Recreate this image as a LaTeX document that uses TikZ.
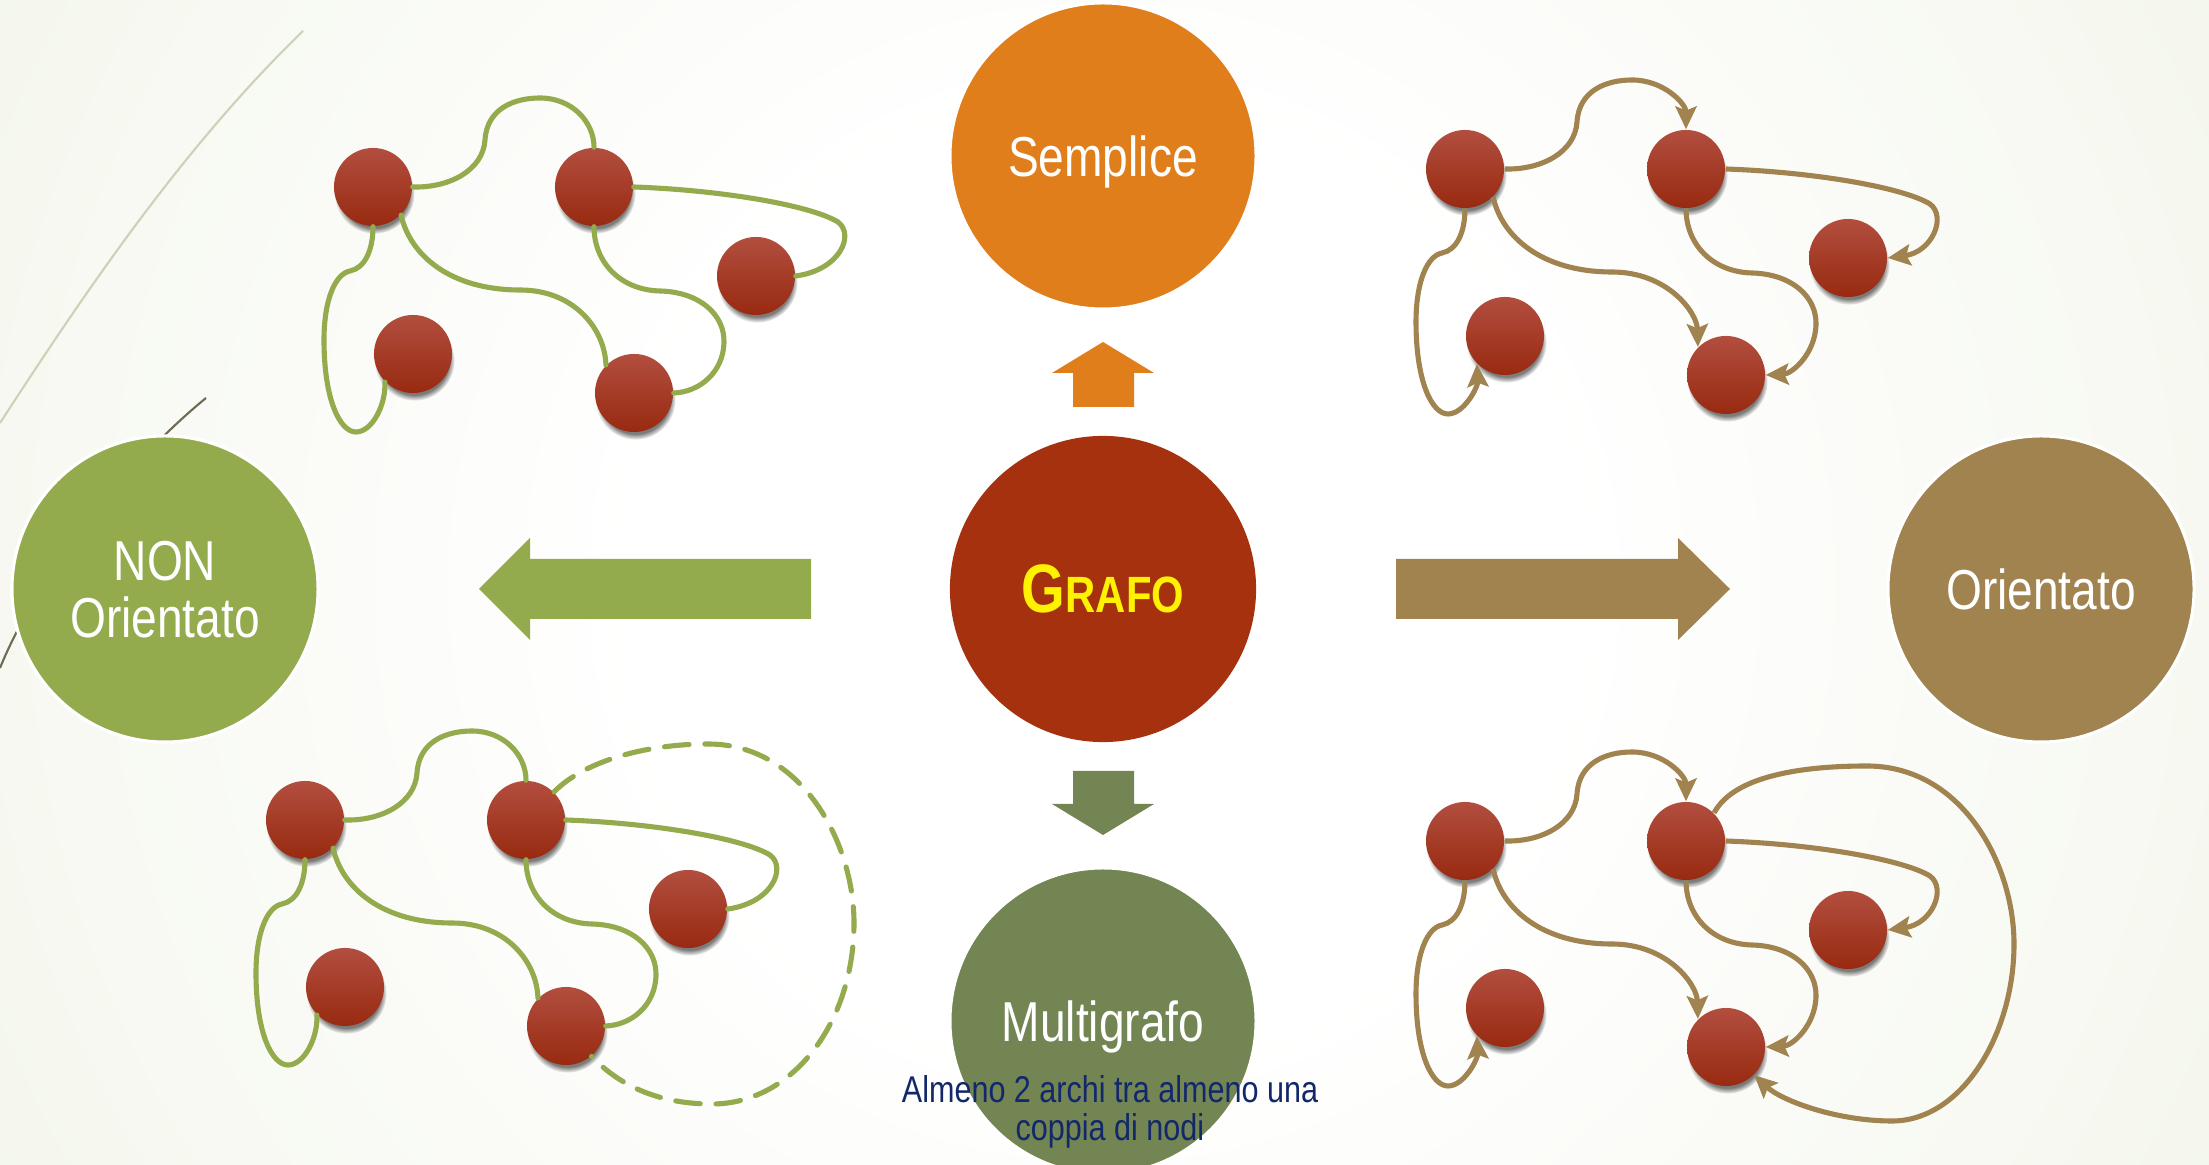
\documentclass[tikz,border=0pt]{standalone}
\usepackage{fontspec}
\setmainfont{Liberation Sans}[FakeStretch=0.82]
\usetikzlibrary{shadows,arrows.meta}

\definecolor{cOrange}{HTML}{DF7E1B}
\definecolor{cRed}{HTML}{A5310F}
\definecolor{cGreen}{HTML}{93AA4D}
\definecolor{cBrown}{HTML}{A0834F}
\definecolor{cOlive}{HTML}{728552}
\definecolor{cNavy}{HTML}{12286B}
\definecolor{ballTop}{HTML}{B24E3F}
\definecolor{ballBot}{HTML}{982A10}
\definecolor{bgMid}{HTML}{F6F8F0}
\definecolor{bgEdge}{HTML}{E5ECD3}
\definecolor{bgCorner}{HTML}{DCE6C1}
\definecolor{faintLine}{HTML}{CDD1BA}
\definecolor{darkLine}{HTML}{6F6A55}

\pgfdeclareradialshading{bgglow}{\pgfpoint{0bp}{0bp}}{color(0bp)=(white); color(9bp)=(white); color(22bp)=(bgMid); color(42bp)=(bgEdge); color(49bp)=(bgCorner); color(60bp)=(bgCorner)}

% one five-node graph; #1 name prefix, #2/#3 shift, #4 edge style
\newcommand\ballgraph[4]{%
  \begin{scope}[shift={(#2,#3)}]
    \node[ball] (#1a) at (373,187) {};
    \node[ball] (#1b) at (594,187) {};
    \node[ball] (#1c) at (756,276) {};
    \node[ball] (#1d) at (413,354) {};
    \node[ball] (#1e) at (634,393) {};
    \draw[#4] (#1a.0) .. controls (450,188) and (483,170) .. (485,140)
      .. controls (487,108) and (515,98) .. (540,98)
      .. controls (572,98) and (594,122) .. (#1b.90);
    \draw[#4] (#1b.0) .. controls (720,190) and (810,205) .. (838,222)
      .. controls (855,235) and (840,270) .. (#1c.0);
    \draw[#4] (#1b.270) .. controls (594,262) and (620,290) .. (660,291)
      .. controls (700,292) and (725,315) .. (724,343)
      .. controls (723,372) and (700,392) .. (#1e.0);
    \draw[#4] (#1a.-45) .. controls (410,255) and (450,290) .. (520,290)
      .. controls (575,290) and (605,330) .. (#1e.135);
    \draw[#4] (#1a.270) .. controls (373,250) and (365,268) .. (350,271)
      .. controls (335,274) and (324,300) .. (324,340)
      .. controls (324,400) and (340,432) .. (356,432)
      .. controls (372,432) and (386,405) .. (#1d.225);
  \end{scope}}

\begin{document}
\begin{tikzpicture}[x=0.01cm,y=-0.01cm,
  bigcirc/.style={circle, minimum size=3.06cm, inner sep=0pt, text=white,
    align=center, font=\fontsize{16}{16.2}\selectfont, text depth=0pt},
  rim/.style={draw=white, line width=0.9pt},
  ball/.style={circle, minimum size=0.78cm, inner sep=0pt,
    top color=ballTop, bottom color=ballBot, draw=none,
    circular drop shadow={shadow xshift=0.4pt, shadow yshift=-1.8pt,
      shadow scale=1.03, fill=black!85, opacity=0.6}},
  plainedge/.style={draw=cGreen, line width=1.45pt, line cap=round},
  arcedge/.style={draw=cBrown, line width=1.45pt,
    -{Stealth[length=6.5pt,width=6pt,inset=1.2pt]}}]

% canvas and soft background glow
\useasboundingbox (0,0) rectangle (2209,1165);
\begin{scope}
  \clip (0,0) rectangle (2209,1165);
  \shade[shading=bgglow] (-196,-718) rectangle (2404,1882);
\end{scope}

% thin decorative strokes on the left
\draw[faintLine, line width=0.6pt] (0,423) .. controls (80,300) and (180,150) .. (303,31);
\draw[darkLine, line width=0.6pt] (206,398) .. controls (130,460) and (40,570) .. (0,668);

% the five category discs
\node[bigcirc, fill=cOrange, rim] (semplice) at (1103,156) {Semplice};
\node[bigcirc, fill=cRed, text=yellow, font=\bfseries] (grafo) at (1103,589)
  {{\fontsize{19.5}{19.5}\selectfont G}{\fontsize{14.5}{14.5}\selectfont RAFO}};
\node[bigcirc, fill=cGreen, rim] (nonor) at (165,589) {NON\\Orientato};
\node[bigcirc, fill=cBrown, rim] (orient) at (2041,589) {Orientato};
\node[bigcirc, fill=cOlive, rim] (multi) at (1103,1021) {Multigrafo};
\node[text=cNavy, align=center, font=\fontsize{10.6}{11}\selectfont] (multinote)
  at (1110,1112) {Almeno 2 archi tra almeno una\\coppia di nodi};

% block arrows leaving the central disc
\fill[cGreen] (479,589) -- (530,538) -- (530,559) -- (811,559) -- (811,619)
  -- (530,619) -- (530,640) -- cycle;
\fill[cBrown] (1730,589) -- (1678,538) -- (1678,559) -- (1396,559) -- (1396,619)
  -- (1678,619) -- (1678,640) -- cycle;
\fill[cOrange] (1103,342) -- (1154,373) -- (1134,373) -- (1134,407) -- (1073,407)
  -- (1073,373) -- (1052,373) -- cycle;
\fill[cOlive] (1103,835) -- (1154,804) -- (1134,804) -- (1134,771) -- (1073,771)
  -- (1073,804) -- (1052,804) -- cycle;

% example graphs
\ballgraph{p}{0}{0}{plainedge}
\ballgraph{q}{1092}{-18}{arcedge}
\ballgraph{r}{-68}{633}{plainedge}
\ballgraph{s}{1092}{654}{arcedge}

% extra (parallel) arcs of the multigraph examples
\begin{scope}[shift={(-68,633)}]
  \draw[plainedge, dash pattern=on 7pt off 4.5pt] (rb.45) .. controls (650,130) and (710,111) .. (776,111)
    .. controls (870,111) and (922,210) .. (922,290)
    .. controls (922,390) and (860,471) .. (780,471)
    .. controls (730,471) and (690,455) .. (re.-50);
\end{scope}
\begin{scope}[shift={(1092,654)}]
  \draw[arcedge] (sb.45) .. controls (640,125) and (700,112) .. (775,112)
    .. controls (870,112) and (922,210) .. (922,290)
    .. controls (922,380) and (870,467) .. (800,467)
    .. controls (745,467) and (690,447) .. (se.-45);
\end{scope}
\end{tikzpicture}
\end{document}
